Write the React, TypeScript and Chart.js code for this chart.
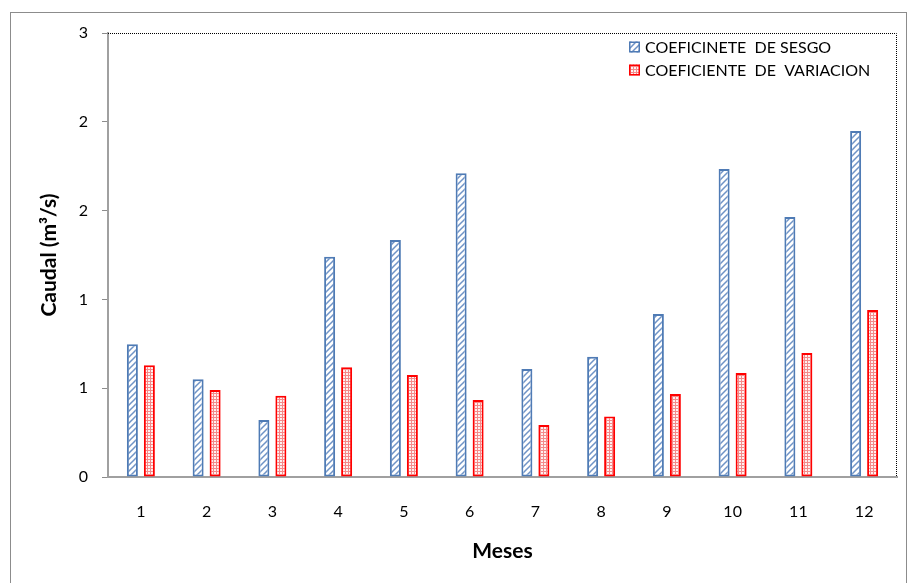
import React, { useEffect, useRef } from 'react';
import { Chart, registerables } from 'chart.js';

Chart.register(...registerables);

const months = ['1', '2', '3', '4', '5', '6', '7', '8', '9', '10', '11', '12'];
const sesgo = [0.747, 0.55, 0.321, 1.24, 1.334, 1.71, 0.608, 0.677, 0.918, 1.734, 1.464, 1.948];
const variacion = [0.629, 0.49, 0.458, 0.618, 0.574, 0.434, 0.293, 0.34, 0.467, 0.586, 0.698, 0.94];
const yTickLabels = ['0', '1', '1', '2', '2', '3'];
const seriesNames = ['COEFICINETE  DE SESGO', 'COEFICIENTE  DE  VARIACION'];
const yTitle = 'Caudal (m³/s)';
const xTitle = 'Meses';

const FONT = 'Lato, "Open Sans", sans-serif';

function makeHatch(): CanvasPattern | string {
  const c = document.createElement('canvas');
  c.width = 6;
  c.height = 6;
  const g = c.getContext('2d');
  if (!g) return '#dbe5f1';
  g.fillStyle = '#ffffff';
  g.fillRect(0, 0, 6, 6);
  g.strokeStyle = '#6f93c6';
  g.lineWidth = 1.5;
  g.beginPath();
  g.moveTo(-1, 7);
  g.lineTo(7, -1);
  g.moveTo(-4, 4);
  g.lineTo(4, -4);
  g.moveTo(2, 10);
  g.lineTo(10, 2);
  g.stroke();
  const p = g.createPattern(c, 'repeat');
  return p || '#dbe5f1';
}

function makeDots(): CanvasPattern | string {
  const c = document.createElement('canvas');
  c.width = 3;
  c.height = 3;
  const g = c.getContext('2d');
  if (!g) return '#f8b0b0';
  g.fillStyle = '#f48a8a';
  g.fillRect(0, 0, 3, 3);
  g.fillStyle = '#fff0f0';
  g.fillRect(1, 1, 2, 2);
  const p = g.createPattern(c, 'repeat');
  return p || '#f8b0b0';
}

export default function App() {
  const ref = useRef<HTMLCanvasElement | null>(null);

  useEffect(() => {
    const canvas = ref.current;
    if (!canvas) return;
    const hatch = makeHatch();
    const dots = makeDots();
    const blueBorder = '#4f7bb5';
    const redBorder = '#ff0000';

    const decor = {
      id: 'decor',
      afterDraw(chart: any) {
        const ctx = chart.ctx;
        const a = chart.chartArea;
        ctx.save();
        // outer frame
        ctx.strokeStyle = '#8c8c8c';
        ctx.lineWidth = 1;
        ctx.setLineDash([]);
        ctx.strokeRect(10.5, 12.5, 896, 620);
        // dotted top/right of plot area
        ctx.strokeStyle = '#000000';
        ctx.setLineDash([1, 1]);
        ctx.beginPath();
        ctx.moveTo(a.left, a.top + 0.5);
        ctx.lineTo(a.right - 0.5, a.top + 0.5);
        ctx.lineTo(a.right - 0.5, a.bottom);
        ctx.stroke();
        ctx.setLineDash([]);
        // legend
        const fills = [hatch, dots];
        const borders = [blueBorder, redBorder];
        const lx = 629;
        const rows = [47, 70];
        ctx.font = '16px ' + FONT;
        ctx.textBaseline = 'middle';
        ctx.textAlign = 'left';
        for (let i = 0; i < seriesNames.length; i++) {
          const cy = rows[i];
          ctx.fillStyle = fills[i] as any;
          ctx.fillRect(lx, cy - 5.5, 11, 11);
          ctx.strokeStyle = borders[i];
          ctx.lineWidth = 1.5;
          ctx.strokeRect(lx + 0.75, cy - 4.75, 9.5, 9.5);
          ctx.fillStyle = '#000000';
          ctx.fillText(seriesNames[i], lx + 16, cy + 1);
        }
        ctx.restore();
      },
    };

    const chart = new Chart(canvas, {
      type: 'bar',
      data: {
        labels: months,
        datasets: [
          {
            label: seriesNames[0],
            data: sesgo,
            backgroundColor: hatch as any,
            borderColor: blueBorder,
            borderWidth: 2,
            borderSkipped: false,
            categoryPercentage: 0.517,
            barPercentage: 0.647,
          },
          {
            label: seriesNames[1],
            data: variacion,
            backgroundColor: dots as any,
            borderColor: redBorder,
            borderWidth: 2,
            borderSkipped: false,
            categoryPercentage: 0.517,
            barPercentage: 0.647,
          },
        ],
      },
      options: {
        responsive: false,
        animation: false,
        layout: { padding: { left: 0, top: 33, right: 12, bottom: 0 } },
        plugins: {
          legend: { display: false },
          tooltip: { enabled: false },
        },
        scales: {
          x: {
            grid: { display: false },
            border: { display: true, color: '#a0a0a0', width: 2 },
            ticks: {
              color: '#000000',
              font: { family: FONT, size: 16 },
              padding: 17,
            },
            title: {
              display: true,
              text: xTitle,
              color: '#000000',
              font: { family: FONT, size: 21, weight: 'bold' },
              padding: { top: 0, bottom: 19 },
            },
            afterFit(s: any) {
              s.height = 106;
            },
          },
          y: {
            min: 0,
            max: 2.5,
            grid: {
              display: true,
              drawOnChartArea: false,
              drawTicks: true,
              tickLength: 6,
              color: '#8c8c8c',
            },
            border: { display: true, color: '#a0a0a0', width: 2 },
            ticks: {
              stepSize: 0.5,
              color: '#000000',
              font: { family: FONT, size: 16 },
              padding: 14,
              callback: (_v: any, i: number) => yTickLabels[i],
            },
            title: {
              display: true,
              text: yTitle,
              color: '#000000',
              font: { family: FONT, size: 21, weight: 'bold' },
              padding: { top: 37, bottom: 0 },
            },
            afterFit(s: any) {
              s.width = 108;
            },
          },
        },
      },
      plugins: [decor],
    });

    return () => {
      chart.destroy();
    };
  }, []);

  return (
    <div style={{ position: 'fixed', left: 0, top: 0, width: 909, height: 583, background: '#ffffff' }}>
      <canvas ref={ref} width={909} height={583} style={{ display: 'block' }} />
    </div>
  );
}
